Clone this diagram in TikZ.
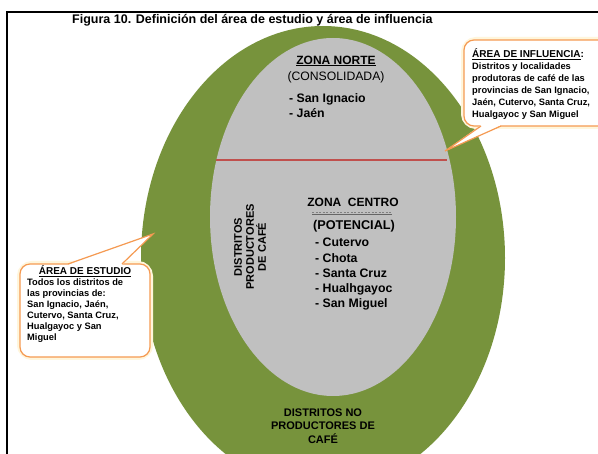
\documentclass[tikz,border=0pt]{standalone}
\usepackage{fontspec}
\setmainfont{Liberation Sans}
\definecolor{olive}{HTML}{77933C}
\definecolor{zonegray}{HTML}{C0C0C0}
\definecolor{redline}{HTML}{C0504D}
\definecolor{calloutor}{HTML}{F59A52}
\definecolor{glow}{HTML}{FFF6DC}
\tikzset{
  cbox/.style={draw=calloutor, line width=1.2pt, fill=white, rounded corners=10pt},
  cglow/.style={draw=glow, line width=6pt, rounded corners=12pt},
  ctail/.style={draw=calloutor, line width=1.2pt},
  zhead/.style={font=\bfseries\fontsize{12}{14}\selectfont, inner sep=0pt},
  zlist/.style={font=\bfseries\fontsize{12.3}{15.3}\selectfont, align=left, inner sep=0pt, anchor=north west},
  ctext/.style={font=\bfseries\fontsize{9.3}{12}\selectfont, align=left, inner sep=0pt, anchor=north west},
  chead/.style={font=\bfseries\fontsize{10}{12}\selectfont, inner sep=0pt},
}
\begin{document}
\begin{tikzpicture}[x=1pt,y=-1pt]
\useasboundingbox (0,0) rectangle (598,454);
\clip (0,0) rectangle (598,454);
\fill[white] (0,0) rectangle (598,454);
% frame
\draw[line width=2pt] (7,455) -- (7,12.5) -- (600,12.5);
% title
\node[anchor=west, inner sep=0pt, font=\bfseries\fontsize{12.5}{14}\selectfont] (title) at (72,20) {Figura 10. Definición del área de estudio y área de influencia};
% ellipses
\fill[olive] (323,258) ellipse [x radius=182, y radius=232];
\fill[zonegray] (333,217) ellipse [x radius=123, y radius=179];
\coordinate (lineL) at (216,160);
\coordinate (lineR) at (447,160);
\draw[redline, line width=2pt] (lineL) -- (lineR);
% zona norte
\node[zhead] (zn) at (336,61) {\underline{ZONA NORTE}};
\node[inner sep=0pt, font=\fontsize{12.2}{14}\selectfont] (zncons) at (336,77) {(CONSOLIDADA)};
\node[zlist] (znlist) at (289,93) {- San Ignacio\\- Jaén};
% zona centro
\node[zhead] (zc) at (353,202) {ZONA\ \ CENTRO};
\coordinate (ulA) at (312,214);
\coordinate (ulB) at (392,214);
\draw[gray!80!black, line width=0.8pt] (ulA) -- (ulB);
\draw[gray, line width=0.5pt, dash pattern=on 2pt off 1.5pt] ([yshift=2pt]ulA) -- ([yshift=2pt]ulB);
\node[zhead, font=\bfseries\fontsize{12.7}{14}\selectfont] (zcpot) at (354,226) {(POTENCIAL)};
\node[zlist] (zclist) at (315,238) {- Cutervo\\- Chota\\- Santa Cruz\\- Hualhgayoc\\- San Miguel};
% rotated
\node[rotate=90, align=center, inner sep=0pt, font=\bfseries\fontsize{11}{12}\selectfont] (prod) at (250,247) {DISTRITOS\\PRODUCTORES\\DE CAFÉ};
% bottom
\node[align=center, inner sep=0pt, font=\bfseries\fontsize{11}{13.5}\selectfont] (noprod) at (323,426) {DISTRITOS NO\\PRODUCTORES DE\\CAFÉ};
% right callout
\coordinate (tipR) at (445,151);
\draw[cglow] (464,40) rectangle (612,126);
\draw[cbox] (464,40) rectangle (612,126);
\fill[white] (481,125.2) -- (tipR) -- (501,125.2) -- cycle;
\draw[ctail] (481,126) -- (tipR) -- (501,126);
\node[chead, anchor=west] (infh) at (472,54) {\underline{ÁREA DE INFLUENCIA}:};
\node[ctext] (inft) at (472,63) {Distritos y localidades\\produtoras de café de las\\provincias de San Ignacio,\\Jaén, Cutervo, Santa Cruz,\\Hualgayoc y San Miguel};
% left callout
\coordinate (tipL) at (153,234);
\draw[cglow] (20,264) rectangle (150,357);
\draw[cbox] (20,264) rectangle (150,357);
\fill[white] (68,264.8) -- (tipL) -- (122,264.8) -- cycle;
\draw[ctail] (68,264) -- (tipL) -- (122,264);
\node[chead] (esth) at (85,271) {\underline{ÁREA DE ESTUDIO}};
\node[ctext, font=\bfseries\fontsize{9.3}{11}\selectfont] (estt) at (27,279) {Todos los distritos de\\las provincias de:\\San Ignacio, Jaén,\\Cutervo, Santa Cruz,\\Hualgayoc y San\\Miguel};
\end{tikzpicture}
\end{document}
